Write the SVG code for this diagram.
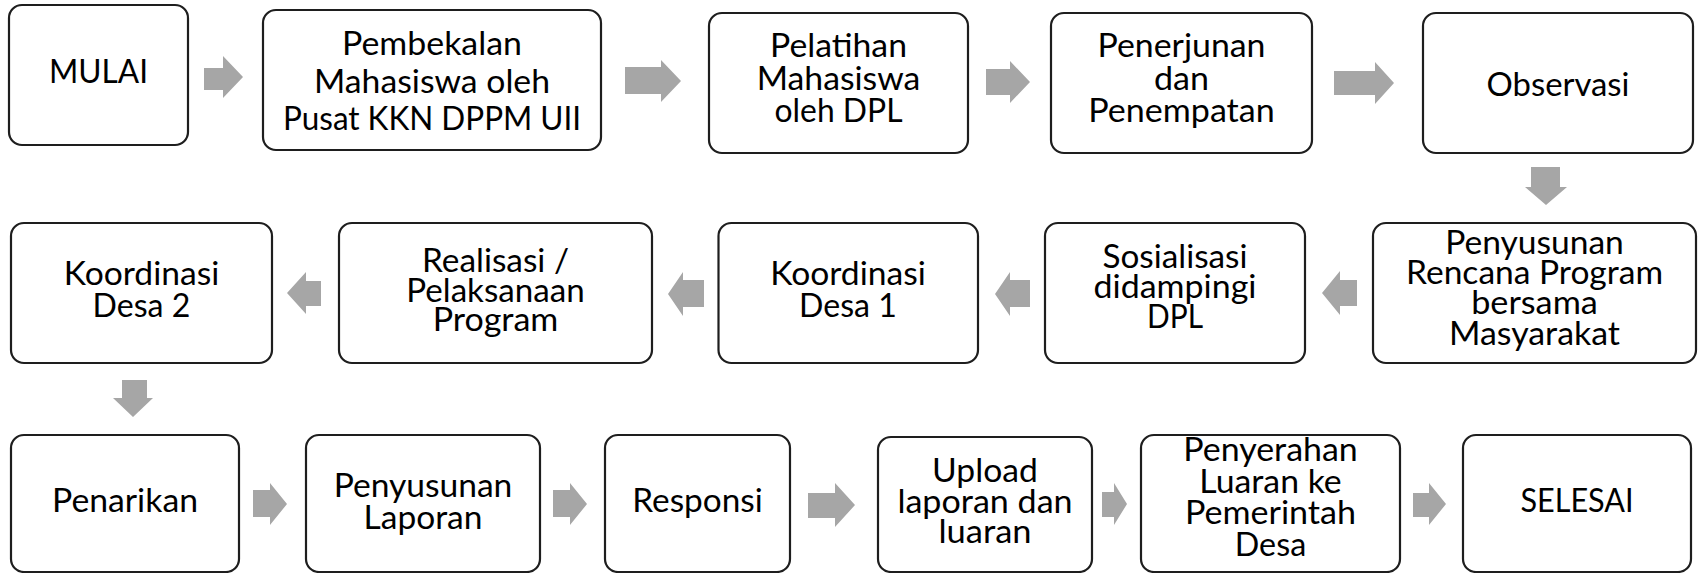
<svg xmlns="http://www.w3.org/2000/svg" width="1701" height="573" viewBox="0 0 1701 573">
<style>
.box{fill:#ffffff;stroke:#1e1e1e;stroke-width:2.2}
.arr{fill:#a6a6a6;stroke:none}
text{font-family:Lato,"Open Sans","Liberation Sans",sans-serif;font-size:32.5px;fill:#000;text-anchor:middle}
</style>
<rect x="0" y="0" width="1701" height="573" fill="#ffffff"/>
<g id="connectors">
<path class="arr" d="M204,68 H223 V56 L243,77 L223,98 V90 H204 Z"/>
<path class="arr" d="M625,67 H661 V60 L681,81 L661,102 V94 H625 Z"/>
<path class="arr" d="M986,69 H1010 V61 L1030,82 L1010,103 V95 H986 Z"/>
<path class="arr" d="M1334,71 H1375 V62 L1394,83 L1375,104 V95 H1334 Z"/>
<path class="arr" d="M1531,167 H1560 V187 H1567 L1546,205 L1525,187 H1531 Z"/>
<path class="arr" d="M1357,280 H1340 V271 L1322,293 L1340,315 V306 H1357 Z"/>
<path class="arr" d="M1030,280 H1010 V272 L995,294 L1010,316 V307 H1030 Z"/>
<path class="arr" d="M704,280 H683 V272 L668,294 L683,316 V307 H704 Z"/>
<path class="arr" d="M321,281 H306 V272 L287,293 L306,314 V306 H321 Z"/>
<path class="arr" d="M122,380 H147 V398 H153 L133,417 L113,398 H122 Z"/>
<path class="arr" d="M253,490 H270 V483 L287,504 L270,525 V517 H253 Z"/>
<path class="arr" d="M553,490 H570 V483 L587,504 L570,525 V517 H553 Z"/>
<path class="arr" d="M808,493 H835 V483 L855,505 L835,527 V518 H808 Z"/>
<path class="arr" d="M1102,492 H1114 V483 L1127,504 L1114,525 V517 H1102 Z"/>
<path class="arr" d="M1413,493 H1429 V483 L1446,504 L1429,525 V517 H1413 Z"/>
</g>
<g id="n01"><rect class="box" x="9" y="5" width="179" height="140" rx="13"/><text x="98.5" y="83" textLength="99" lengthAdjust="spacingAndGlyphs">MULAI</text></g>
<g id="n02"><rect class="box" x="263" y="10" width="338" height="140" rx="13"/>
<text><tspan x="432" y="55" textLength="180" lengthAdjust="spacingAndGlyphs">Pembekalan</tspan><tspan x="432" y="92.5" textLength="236" lengthAdjust="spacingAndGlyphs">Mahasiswa oleh</tspan><tspan x="432" y="129.5" textLength="298" lengthAdjust="spacingAndGlyphs">Pusat KKN DPPM UII</tspan></text></g>
<g id="n03"><rect class="box" x="709" y="13" width="259" height="140" rx="13"/>
<text><tspan x="838.5" y="57" textLength="137" lengthAdjust="spacingAndGlyphs">Pelatihan</tspan><tspan x="838.5" y="90" textLength="163.5" lengthAdjust="spacingAndGlyphs">Mahasiswa</tspan><tspan x="838.5" y="122" textLength="128" lengthAdjust="spacingAndGlyphs">oleh DPL</tspan></text></g>
<g id="n04"><rect class="box" x="1051" y="13" width="261" height="140" rx="13"/>
<text><tspan x="1181.5" y="57" textLength="168" lengthAdjust="spacingAndGlyphs">Penerjunan</tspan><tspan x="1181.5" y="90" textLength="55" lengthAdjust="spacingAndGlyphs">dan</tspan><tspan x="1181.5" y="122" textLength="186.5" lengthAdjust="spacingAndGlyphs">Penempatan</tspan></text></g>
<g id="n05"><rect class="box" x="1423" y="13" width="270" height="140" rx="13"/>
<text x="1558" y="96" textLength="143" lengthAdjust="spacingAndGlyphs">Observasi</text></g>
<g id="n06"><rect class="box" x="1373" y="223" width="323" height="140" rx="13"/>
<text><tspan x="1534.5" y="253.5" textLength="178.7" lengthAdjust="spacingAndGlyphs">Penyusunan</tspan><tspan x="1534.5" y="284" textLength="257" lengthAdjust="spacingAndGlyphs">Rencana Program</tspan><tspan x="1534.5" y="314" textLength="126.7" lengthAdjust="spacingAndGlyphs">bersama</tspan><tspan x="1534.5" y="344.5" textLength="171" lengthAdjust="spacingAndGlyphs">Masyarakat</tspan></text></g>
<g id="n07"><rect class="box" x="1045" y="223" width="260" height="140" rx="13"/>
<text><tspan x="1175" y="268" textLength="145" lengthAdjust="spacingAndGlyphs">Sosialisasi</tspan><tspan x="1175" y="298" textLength="163" lengthAdjust="spacingAndGlyphs">didampingi</tspan><tspan x="1175" y="328" textLength="56" lengthAdjust="spacingAndGlyphs">DPL</tspan></text></g>
<g id="n08"><rect class="box" x="718.5" y="223" width="259.5" height="140" rx="13"/>
<text><tspan x="848" y="285" textLength="155.6" lengthAdjust="spacingAndGlyphs">Koordinasi</tspan><tspan x="848" y="317" textLength="97.8" lengthAdjust="spacingAndGlyphs">Desa 1</tspan></text></g>
<g id="n09"><rect class="box" x="339" y="223" width="313" height="140" rx="13"/>
<text><tspan x="495.5" y="272" textLength="147" lengthAdjust="spacingAndGlyphs">Realisasi /</tspan><tspan x="495.5" y="302" textLength="178.4" lengthAdjust="spacingAndGlyphs">Pelaksanaan</tspan><tspan x="495.5" y="331" textLength="125.7" lengthAdjust="spacingAndGlyphs">Program</tspan></text></g>
<g id="n10"><rect class="box" x="11" y="223" width="261" height="140" rx="13"/>
<text><tspan x="141.5" y="285" textLength="155.6" lengthAdjust="spacingAndGlyphs">Koordinasi</tspan><tspan x="141.5" y="317" textLength="97.8" lengthAdjust="spacingAndGlyphs">Desa 2</tspan></text></g>
<g id="n11"><rect class="box" x="11" y="435" width="228" height="137" rx="13"/>
<text x="125" y="512" textLength="146" lengthAdjust="spacingAndGlyphs">Penarikan</text></g>
<g id="n12"><rect class="box" x="306" y="435" width="234" height="137" rx="13"/>
<text><tspan x="423" y="497" textLength="178.7" lengthAdjust="spacingAndGlyphs">Penyusunan</tspan><tspan x="423" y="528.5" textLength="118.9" lengthAdjust="spacingAndGlyphs">Laporan</tspan></text></g>
<g id="n13"><rect class="box" x="605" y="435" width="185" height="137" rx="13"/>
<text x="697.5" y="512" textLength="130.6" lengthAdjust="spacingAndGlyphs">Responsi</text></g>
<g id="n14"><rect class="box" x="878" y="437" width="214" height="135" rx="13"/>
<text><tspan x="985" y="482" textLength="105.8" lengthAdjust="spacingAndGlyphs">Upload</tspan><tspan x="985" y="512.5" textLength="175.2" lengthAdjust="spacingAndGlyphs">laporan dan</tspan><tspan x="985" y="543" textLength="93.1" lengthAdjust="spacingAndGlyphs">luaran</tspan></text></g>
<g id="n15"><rect class="box" x="1141" y="435" width="259" height="137" rx="13"/>
<text><tspan x="1270.5" y="461" textLength="174.5" lengthAdjust="spacingAndGlyphs">Penyerahan</tspan><tspan x="1270.5" y="492.5" textLength="142.4" lengthAdjust="spacingAndGlyphs">Luaran ke</tspan><tspan x="1270.5" y="524" textLength="171.1" lengthAdjust="spacingAndGlyphs">Pemerintah</tspan><tspan x="1270.5" y="555.5" textLength="71.4" lengthAdjust="spacingAndGlyphs">Desa</tspan></text></g>
<g id="n16"><rect class="box" x="1463" y="435" width="228" height="137" rx="13"/>
<text x="1577" y="512" textLength="113.2" lengthAdjust="spacingAndGlyphs">SELESAI</text></g>
</svg>
